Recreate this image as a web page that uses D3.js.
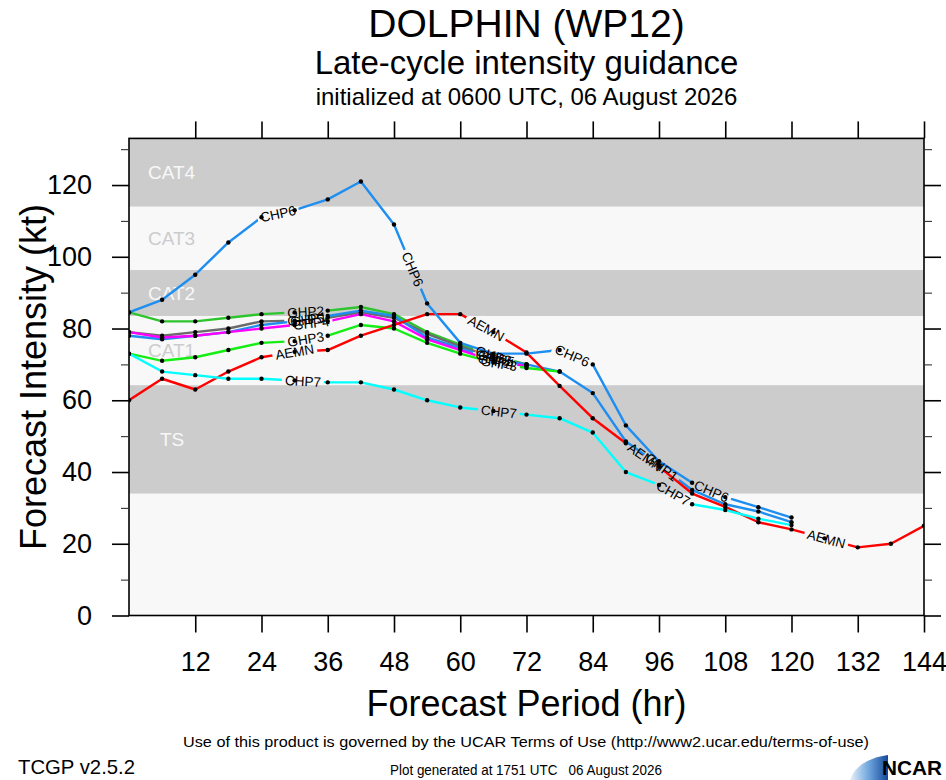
<!DOCTYPE html>
<html><head><meta charset="utf-8">
<script src="https://cdn.jsdelivr.net/npm/d3@7/dist/d3.min.js"></script>
<style>
body{margin:0;background:#fff;}
svg{display:block;font-family:"Liberation Sans",Arial,Helvetica,sans-serif;}
</style>
</head><body>
<svg id="c" width="946" height="780"></svg>
<script>
// ---------------- DATA ----------------
const hours = [0,6,12,18,24,30,36,42,48,54,60,66,72,78,84,90,96,102,108,114,120,126,132,138,144];
const modelNames  = ["GHP2","GHP5","GHP1","GHP4","GHP3","AEMN","CHP7","CHP6"];
const modelColors = ["#2ec42e","#6b6b6b","#1e8ef0","#ff00ff","#14ee14","#ff0000","#00ffff","#1e8ef0"];
const ghp2 = [84.5,82,82,83,84,84.5,85,86,84,79,75.5,72.5,70];
const ghp5 = [79,78,79,80,82,82.2,83,84.5,83,78.5,75,72,70];
const ghp1 = [78,77,78,79,81,82,83.5,85,83.5,77.5,74.5,71.5,70,68,62,48.5,42,35,31,29,26];
const ghp4 = [79,77.5,78,79,80,81,82,84,82,77,74,71,69.5];
const ghp3 = [73,71,72,74,76,76.5,78,81,80,76,73,70.5,69,68];
const aemn = [60,66,63,68,72,73.5,74,78,81,84,84,79,73.3,64,55,48,41.5,34,30.3,26,24,21.5,19,20,25];
const chp7 = [73,68,67,66,66,65.5,65,65,63,60,58,57,56,55,51,40,36.4,31,29.4,27,25.2];
const chp6 = [84.5,88,95,104,111,113,116,121,109,87,76,73,73,74,70,53,43,37,33,30.2,27.3];
const modelValues = [ghp2,ghp5,ghp1,ghp4,ghp3,aemn,chp7,chp6];
// forecast hours at which each model's name is written on its line
const labHoursGHP2 = [32,66];
const labHoursGHP5 = [32,66.5];
const labHoursGHP1 = [32.5,66,96.5];
const labHoursGHP4 = [33,66.5];
const labHoursGHP3 = [32,67];
const labHoursAEMN = [30,64.7,93.5,126.3];
const labHoursCHP7 = [31.5,67,98.6];
const labHoursCHP6 = [27,51.4,80.3,105.5];
const modelLabelHours = [labHoursGHP2,labHoursGHP5,labHoursGHP1,labHoursGHP4,labHoursGHP3,labHoursAEMN,labHoursCHP7,labHoursCHP6];

const yTicks = [0,20,40,60,80,100,120];
const yMinor = [10,30,50,70,90,110,130];
const xTicks = [12,24,36,48,60,72,84,96,108,120,132,144];
const bandNames = ["TS","CAT1","CAT2","CAT3","CAT4"];
const bandLow   = [34,64.2,83.5,96.3,114];
const bandHigh  = [64.2,83.5,96.3,114,133];
const bandShaded= [true,false,true,false,true];

const titleText = "DOLPHIN (WP12)";
const subTitle  = "Late-cycle intensity guidance";
const initText  = "initialized at 0600 UTC, 06 August 2026";

// ---------------- CHART ----------------
const svg = d3.select("#c");
const W = 946, H = 780;
const x = d3.scaleLinear().domain([0,144]).range([129,924]);
const y = d3.scaleLinear().domain([0,133]).range([615.5,138.4]);
const X0 = x(0), X1 = x(144), Y0 = y(0), Y1 = y(133);
const GRAY = "#cccccc", LIGHT = "#f8f8f8";

svg.append("rect").attr("width",W).attr("height",H).attr("fill","#fff");
svg.append("rect").attr("x",X0).attr("y",Y1).attr("width",X1-X0).attr("height",Y0-Y1).attr("fill",LIGHT);

const defs = svg.append("defs");
defs.append("clipPath").attr("id","plotclip").append("rect")
  .attr("x",X0).attr("y",Y1).attr("width",X1-X0).attr("height",Y0-Y1);

// bands
bandNames.forEach((n,i)=>{
  if (bandShaded[i]) {
    svg.append("rect").attr("x",X0).attr("y",y(bandHigh[i]))
      .attr("width",X1-X0).attr("height",y(bandLow[i])-y(bandHigh[i])).attr("fill",GRAY);
  }
  svg.append("text").attr("x", n==="TS" ? 160 : 148)
    .attr("y",(y(bandLow[i])+y(bandHigh[i]))/2).attr("dy","0.36em")
    .attr("font-size",19).attr("fill", bandShaded[i] ? LIGHT : GRAY).text(n);
});

// helpers for label placement
function posAt(vals, h){
  let j = 0;
  while (j < vals.length-2 && hours[j+1] < h) j++;
  const xa = x(hours[j]), ya = y(vals[j]), xb = x(hours[j+1]), yb = y(vals[j+1]);
  const t = (h - hours[j])/(hours[j+1]-hours[j]);
  return {px: xa+(xb-xa)*t, py: ya+(yb-ya)*t, ang: Math.atan2(yb-ya, xb-xa)*180/Math.PI};
}

const series = modelNames.map((n,i)=>({name:n, color:modelColors[i], vals:modelValues[i], labs:modelLabelHours[i]}));
const LFS = 13.5;
// measure label text width
const meas = svg.append("text").attr("font-size",LFS).text("CHP6");
series.forEach(s=>{ meas.text(s.name); s.tw = meas.node().getComputedTextLength(); });
meas.remove();

const line = d3.line().x((d,i)=>x(hours[i])).y(d=>y(d));
const gLines = svg.append("g").attr("clip-path","url(#plotclip)");

series.forEach((s,k)=>{
  const m = defs.append("mask").attr("id","mk"+k).attr("maskUnits","userSpaceOnUse")
    .attr("x",0).attr("y",0).attr("width",W).attr("height",H);
  m.append("rect").attr("width",W).attr("height",H).attr("fill","#fff");
  s.labs.forEach(h=>{
    const p = posAt(s.vals,h);
    m.append("rect").attr("x",-s.tw/2-3).attr("y",-7).attr("width",s.tw+6).attr("height",14)
      .attr("fill","#000").attr("transform",`translate(${p.px},${p.py}) rotate(${p.ang})`);
  });
  gLines.append("path").datum(s.vals).attr("d",line).attr("fill","none")
    .attr("stroke",s.color).attr("stroke-width",2.4).attr("stroke-linejoin","round")
    .attr("mask",`url(#mk${k})`);
});

// dots
const gDots = svg.append("g").attr("clip-path","url(#plotclip)");
series.forEach(s=>{
  gDots.selectAll(null).data(s.vals).join("circle")
    .attr("cx",(d,i)=>x(hours[i])).attr("cy",d=>y(d)).attr("r",2.2).attr("fill","#000");
});

// labels
const gLab = svg.append("g");
series.forEach(s=>{
  s.labs.forEach(h=>{
    const p = posAt(s.vals,h);
    gLab.append("text").attr("transform",`translate(${p.px},${p.py}) rotate(${p.ang})`)
      .attr("text-anchor","middle").attr("dy","0.36em").attr("font-size",LFS).attr("fill","#000").text(s.name);
  });
});

// frame
svg.append("rect").attr("x",X0).attr("y",Y1).attr("width",X1-X0).attr("height",Y0-Y1)
  .attr("fill","none").attr("stroke","#000").attr("stroke-width",1.6);

function styleAxis(g, fs){
  g.select(".domain").remove();
  g.selectAll(".tick line").attr("stroke","#000").attr("stroke-width",1.6);
  g.selectAll("text").attr("font-size",fs).attr("fill","#000")
    .attr("font-family","'Liberation Sans',Arial,Helvetica,sans-serif");
}
const gL = svg.append("g").attr("transform",`translate(${X0},0)`)
  .call(d3.axisLeft(y).tickValues(yTicks).tickSize(17).tickSizeOuter(0).tickPadding(20));
styleAxis(gL,27);
const gLm = svg.append("g").attr("transform",`translate(${X0},0)`)
  .call(d3.axisLeft(y).tickValues(yMinor).tickSize(8).tickSizeOuter(0).tickFormat(""));
styleAxis(gLm,1); gLm.selectAll(".tick line").attr("stroke-width",1.1).attr("stroke","#333");
const gR = svg.append("g").attr("transform",`translate(${X1},0)`)
  .call(d3.axisRight(y).tickValues(yTicks).tickSize(17).tickSizeOuter(0).tickFormat(""));
styleAxis(gR,1);
const gRm = svg.append("g").attr("transform",`translate(${X1},0)`)
  .call(d3.axisRight(y).tickValues(yMinor).tickSize(8).tickSizeOuter(0).tickFormat(""));
styleAxis(gRm,1); gRm.selectAll(".tick line").attr("stroke-width",1.1).attr("stroke","#333");
const gB = svg.append("g").attr("transform",`translate(0,${Y0})`)
  .call(d3.axisBottom(x).tickValues(xTicks).tickSize(17).tickSizeOuter(0).tickPadding(19));
styleAxis(gB,27);
const gT = svg.append("g").attr("transform",`translate(0,${Y1})`)
  .call(d3.axisTop(x).tickValues(xTicks).tickSize(17).tickSizeOuter(0).tickFormat(""));
styleAxis(gT,1);

// axis titles
svg.append("text").attr("x",(X0+X1)/2).attr("y",716).attr("text-anchor","middle")
  .attr("font-size",36).text("Forecast Period (hr)");
svg.append("text").attr("transform",`translate(46,${(Y0+Y1)/2}) rotate(-90)`).attr("text-anchor","middle")
  .attr("font-size",36).text("Forecast Intensity (kt)");

// titles
const cx = (X0+X1)/2;
svg.append("text").attr("x",cx).attr("y",37).attr("text-anchor","middle").attr("font-size",39).text(titleText);
svg.append("text").attr("x",cx).attr("y",74).attr("text-anchor","middle").attr("font-size",33).text(subTitle);
svg.append("text").attr("x",cx).attr("y",105).attr("text-anchor","middle").attr("font-size",24).text(initText);

// footer
const narrow = "'Liberation Sans Narrow','Arial Narrow','Liberation Sans',sans-serif";
svg.append("text").attr("x",183).attr("y",747).attr("font-size",15).attr("font-family",narrow)
  .attr("textLength",686).attr("lengthAdjust","spacingAndGlyphs")
  .text("Use of this product is governed by the UCAR Terms of Use (http://www2.ucar.edu/terms-of-use)");
svg.append("text").attr("x",18).attr("y",774).attr("font-size",21).attr("font-family",narrow)
  .attr("textLength",117).attr("lengthAdjust","spacingAndGlyphs").text("TCGP v2.5.2");
svg.append("text").attr("x",390).attr("y",775).attr("font-size",14).attr("font-family",narrow)
  .attr("textLength",272).attr("lengthAdjust","spacingAndGlyphs").style("white-space","pre")
  .text("Plot generated at 1751 UTC   06 August 2026");

// NCAR logo
const grad = defs.append("linearGradient").attr("id","ncarg").attr("x1","0").attr("x2","1").attr("y1","0").attr("y2","0");
grad.append("stop").attr("offset","0").attr("stop-color","#e8f1fb");
grad.append("stop").attr("offset","0.5").attr("stop-color","#6ea5dc");
grad.append("stop").attr("offset","1").attr("stop-color","#14489a");
svg.append("path").attr("d","M850,780 C854,768 866,758 888,755 L888,780 Z").attr("fill","url(#ncarg)");
svg.append("text").attr("x",882).attr("y",775).attr("font-size",21).attr("font-weight","bold")
  .attr("font-family",narrow).attr("textLength",60).attr("lengthAdjust","spacingAndGlyphs").text("NCAR");
</script>
</body></html>
